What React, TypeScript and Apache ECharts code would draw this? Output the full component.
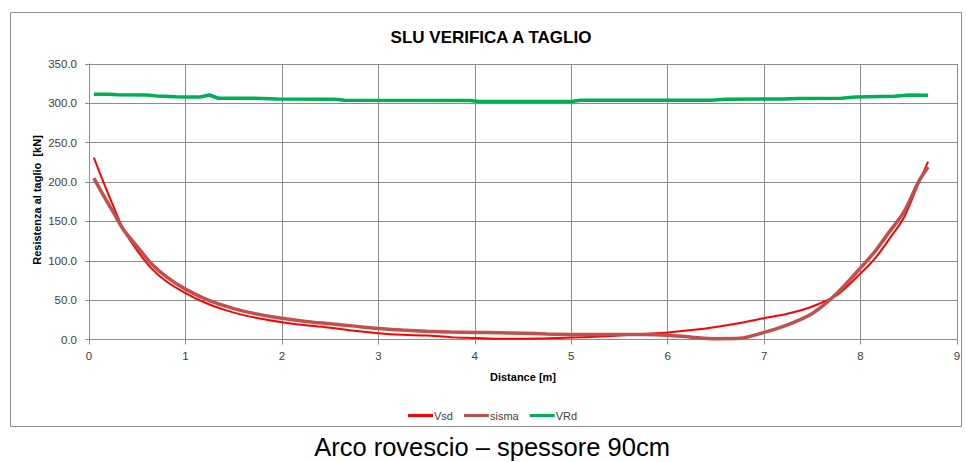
import React, { useEffect, useRef } from "react";
import * as echarts from "echarts";

// Distances [m] for the two red curves
const distances = [
  0.05, 0.15, 0.25, 0.36, 0.5, 0.65, 0.8, 1.0, 1.2, 1.4, 1.6, 1.8, 2.0, 2.25, 2.5, 2.75,
  3.0, 3.25, 3.5, 3.75, 4.0, 4.25, 4.5, 4.75, 5.0, 5.25, 5.5, 5.75, 6.0, 6.25, 6.5, 6.75,
  7.0, 7.25, 7.5, 7.75, 8.0, 8.15, 8.3, 8.45, 8.6, 8.7,
];
const vsd = [
  231, 200, 170, 139, 113, 90, 74, 59, 47, 38, 31, 26, 22, 18, 15, 11,
  8, 6, 5, 3, 2, 1, 1, 1.5, 2.5, 3.5, 5, 7, 9, 12, 16, 21,
  27, 33, 42, 56, 84, 103, 128, 155, 198, 226,
];
const sisma = [
  205, 183, 162, 139, 118, 96, 80, 64, 52, 43, 36, 31, 27, 23, 20, 17,
  14, 12, 10.5, 9.5, 9, 8.5, 8, 7, 6.5, 6.5, 6.5, 6.5, 5.5, 3, 1, 1.5,
  9, 19, 33, 58, 91, 112, 137, 162, 200, 219,
];
// Distances and values for VRd
const vrdDistances = [
  0.05, 0.2, 0.3, 0.6, 0.7, 0.9, 1.0, 1.15, 1.25, 1.34, 1.8, 1.95, 2.55, 2.65, 3.95, 4.05,
  5.0, 5.1, 6.45, 6.6, 7.2, 7.35, 7.8, 7.95, 8.35, 8.5, 8.7,
];
const vrd = [
  311.5, 311.5, 310.8, 310.5, 309.5, 308.5, 308.2, 308, 310.6, 306.5, 306.3, 305.5, 305.3, 304, 303.7, 302.5,
  302.5, 304, 304, 305.2, 305.5, 306.3, 306.5, 308, 309, 310.6, 310.3,
];

const seriesNames = ["Vsd", "sisma", "VRd"];
const xMin = 0, xMax = 9, xStep = 1;
const yMin = 0, yMax = 350, yStep = 50;

const titleText = "SLU VERIFICA A TAGLIO";
const xName = "Distance [m]";
const yName = "Resistenza al taglio  [kN]";
const caption = "Arco rovescio \u2013 spessore 90cm";

export default function App() {
  const ref = useRef<HTMLDivElement>(null);
  useEffect(() => {
    if (!ref.current) return;
    const chart = echarts.init(ref.current, null, { renderer: "svg" });
    const pair = (xs: number[], ys: number[]) => xs.map((x, i) => [x, ys[i]]);
    const gridColor = "#8c8c8c";
    const labelColor = "#404040";
    const font = "'Liberation Sans', Arial, sans-serif";
    chart.setOption({
      animation: false,
      backgroundColor: "#ffffff",
      grid: { left: 89, top: 64, width: 868, height: 275.5, containLabel: false, outerBoundsMode: "none" },
      xAxis: {
        type: "value",
        min: xMin,
        max: xMax,
        interval: xStep,
        axisLine: { show: true, lineStyle: { color: gridColor, width: 1 } },
        axisTick: { show: true, inside: false, length: 5, lineStyle: { color: gridColor } },
        axisLabel: { color: labelColor, fontFamily: font, fontSize: 11.5, margin: 10 },
        splitLine: { show: true, lineStyle: { color: gridColor, width: 1 } },
      },
      yAxis: {
        type: "value",
        min: yMin,
        max: yMax,
        interval: yStep,
        axisLine: { show: true, lineStyle: { color: gridColor, width: 1 } },
        axisTick: { show: true, inside: false, length: 4, lineStyle: { color: gridColor } },
        axisLabel: {
          color: labelColor,
          fontFamily: font,
          fontSize: 11.5,
          margin: 12,
          formatter: (v: number) => v.toFixed(1),
        },
        splitLine: { show: true, lineStyle: { color: gridColor, width: 1 } },
      },
      legend: {
        data: seriesNames.map((n) => ({ name: n, icon: "rect" })),
        left: 403,
        top: 405,
        itemWidth: 25,
        itemHeight: 3,
        itemGap: 11,
        textStyle: { fontFamily: font, fontSize: 11, color: labelColor, padding: [0, 0, 0, -4] },
      },
      series: [
        {
          name: seriesNames[0],
          type: "line",
          data: pair(distances, vsd),
          symbol: "none",
          smooth: 0.3,
          lineStyle: { color: "#ff0000", width: 2 },
          itemStyle: { color: "#ff0000" },
        },
        {
          name: seriesNames[1],
          type: "line",
          data: pair(distances, sisma),
          symbol: "none",
          smooth: 0.3,
          lineStyle: { color: "#c0504d", width: 3.5 },
          itemStyle: { color: "#c0504d" },
        },
        {
          name: seriesNames[2],
          type: "line",
          data: pair(vrdDistances, vrd),
          symbol: "none",
          lineStyle: { color: "#00b050", width: 3.5 },
          itemStyle: { color: "#00b050" },
        },
      ],
      graphic: [
        {
          type: "rect",
          shape: { x: 10.5, y: 12.5, width: 951, height: 414 },
          style: { fill: "none", stroke: "#8c8c8c", lineWidth: 1 },
          z: -1,
        },
        {
          type: "text",
          x: 491,
          y: 37,
          style: {
            text: titleText,
            font: `bold 17px ${font}`,
            fill: "#000000",
            textAlign: "center",
            textVerticalAlign: "middle",
          },
        },
        {
          type: "text",
          x: 36.5,
          y: 200,
          rotation: Math.PI / 2,
          style: {
            text: yName,
            font: `bold 11px ${font}`,
            fill: "#000000",
            textAlign: "center",
            textVerticalAlign: "middle",
          },
        },
        {
          type: "text",
          x: 523,
          y: 377,
          style: {
            text: xName,
            font: `bold 11px ${font}`,
            fill: "#000000",
            textAlign: "center",
            textVerticalAlign: "middle",
          },
        },
        {
          type: "text",
          x: 492,
          y: 447,
          style: {
            text: caption,
            font: `25.5px ${font}`,
            fill: "#000000",
            textAlign: "center",
            textVerticalAlign: "middle",
          },
        },
      ],
    });
    return () => chart.dispose();
  }, []);
  return (
    <div
      ref={ref}
      style={{ position: "fixed", left: 0, top: 0, width: 966, height: 462, background: "#fff" }}
    />
  );
}
